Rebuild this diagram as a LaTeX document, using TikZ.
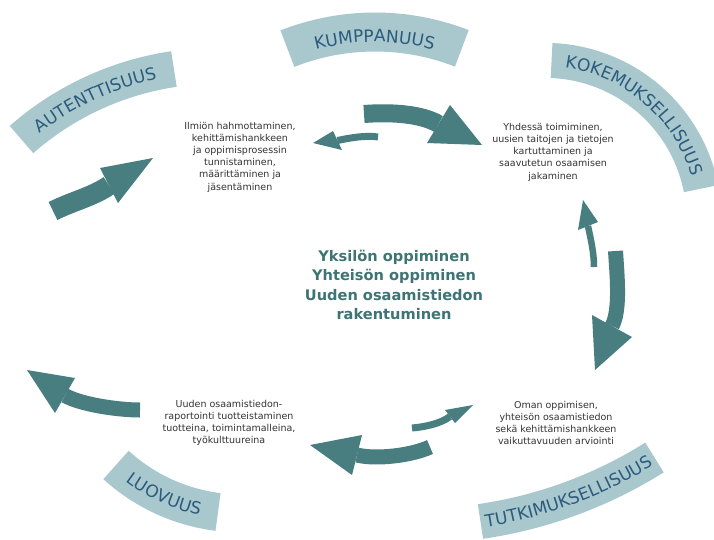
\documentclass[tikz,border=0pt]{standalone}
\usepackage{fontspec}
\setmainfont{DejaVu Sans}
\usetikzlibrary{decorations.text}
\definecolor{bandfill}{HTML}{A8C8CD}
\definecolor{arrowteal}{HTML}{487E80}
\definecolor{bandtext}{HTML}{2C5B7E}
\definecolor{centertext}{HTML}{3E7474}
\definecolor{bodytext}{HTML}{333333}
\newcommand{\bandfont}{\fontsize{17}{17}\selectfont\color{bandtext}}
\tikzset{
  band/.style={draw=bandfill, line cap=butt},
  shaft/.style={draw=arrowteal, line cap=butt},
  head/.style={fill=arrowteal},
  stage/.style={align=center, text=bodytext, font=\fontsize{9.5}{12.2}\selectfont, inner sep=0pt},
  core/.style={align=center, text=centertext, font=\bfseries\fontsize{14.6}{19.6}\selectfont, inner sep=0pt}
}
\begin{document}
\begin{tikzpicture}[x=1pt,y=-1pt]
\useasboundingbox[fill=white] (0,0) rectangle (714,539);

% ---------- bands (circular arcs) ----------
\coordinate (cA) at (217.3,362.8);
\coordinate (cK) at (375,271);
\coordinate (cE) at (545.2,219.2);
\coordinate (cT) at (416.3,78.4);
\coordinate (cL) at (241,327.9);

% AUTENTTISUUS
\draw[band, line width=36pt] ([shift={(cA)}]-131.25:297) arc[start angle=-131.25, end angle=-98.4, radius=297];
\path[decorate, decoration={text along path, text align=center, text={|\bandfont|AUTENTTISUUS}}]
  ([shift={(cA)}]-131.25:290) arc[start angle=-131.25, end angle=-98.4, radius=290];
% KUMPPANUUS
\draw[band, line width=39pt] ([shift={(cK)}]-111.5:239) arc[start angle=-111.5, end angle=-68.7, radius=239];
\path[decorate, decoration={text along path, text align=center, text={|\bandfont|KUMPPANUUS}}]
  ([shift={(cK)}]-111.5:229) arc[start angle=-111.5, end angle=-68.7, radius=229];
% KOKEMUKSELLISUUS
\draw[band, line width=35pt] ([shift={(cE)}]-87.7:158.8) arc[start angle=-87.7, end angle=-11.1, radius=158.8];
\path[decorate, decoration={text along path, text align=center, text={|\bandfont|KOKEMUKSELLISUUS}}]
  ([shift={(cE)}]-87.7:152.5) arc[start angle=-87.7, end angle=-11.1, radius=152.5];
% TUTKIMUKSELLISUUS
\draw[band, line width=35pt] ([shift={(cT)}]81.76:447.7) arc[start angle=81.76, end angle=57.86, radius=447.7];
\path[decorate, decoration={text along path, text align=center, text={|\bandfont|TUTKIMUKSELLISUUS}}]
  ([shift={(cT)}]81.76:454) arc[start angle=81.76, end angle=57.86, radius=454];
% LUOVUUS
\draw[band, line width=38pt] ([shift={(cL)}]132.36:185.5) arc[start angle=132.36, end angle=97.12, radius=185.5];
\path[decorate, decoration={text along path, text align=center, text={|\bandfont|LUOVUUS}}]
  ([shift={(cL)}]132.36:192) arc[start angle=132.36, end angle=97.12, radius=192];

% ---------- arrows ----------
% upper left, up-right
\coordinate (a1t) at (53,211); \coordinate (a1b) at (109,185.5);
\draw[shaft, line width=20pt] (a1t) .. controls (73,201) and (92,197) .. (a1b);
\fill[head] (100,168) -- (153,158) -- (118,203) -- cycle;
% top big, to the right
\coordinate (a2t) at (364,114); \coordinate (a2b) at (438.5,124);
\draw[shaft, line width=18pt] (a2t) .. controls (390,112) and (421,113.6) .. (a2b);
\fill[head] (450,105) -- (482,145) -- (427,143) -- cycle;
% top small, to the left
\coordinate (a3t) at (378,137); \coordinate (a3b) at (337.5,140.5);
\draw[shaft, line width=7pt] (a3t) .. controls (366,135) and (349,138) .. (a3b);
\fill[head] (333,131) -- (313,143) -- (342,150) -- cycle;
% right small, up
\coordinate (a4t) at (594,267); \coordinate (a4b) at (588,226);
\draw[shaft, line width=6.5pt] (a4t) .. controls (594,252) and (590.4,237.8) .. (a4b);
\fill[head] (578,230) -- (583,200) -- (598,222) -- cycle;
% right big, down
\coordinate (a5t) at (615.5,251); \coordinate (a5b) at (612,326);
\draw[shaft, line width=15pt] (a5t) .. controls (617,275) and (620.6,310) .. (a5b);
\fill[head] (592,315) -- (595,370) -- (632,337) -- cycle;
% bottom big, to the left
\coordinate (a6t) at (430,447); \coordinate (a6b) at (357,455);
\draw[shaft, line width=15pt] (a6t) .. controls (411.8,455.4) and (376.4,459.8) .. (a6b);
\fill[head] (362,435) -- (310,445) -- (352,475) -- cycle;
% bottom small, to the right
\coordinate (a7t) at (412,428); \coordinate (a7b) at (450,416.5);
\draw[shaft, line width=7pt] (a7t) .. controls (424,427) and (440.5,423.8) .. (a7b);
\fill[head] (445,410) -- (473,405) -- (455,423) -- cycle;
% lower left, up-left
\coordinate (a8t) at (140,410); \coordinate (a8b) at (65,395.5);
\draw[shaft, line width=15pt] (a8t) .. controls (118,410) and (80.7,404.5) .. (a8b);
\fill[head] (75,378) -- (27,370) -- (55,413) -- cycle;

% ---------- texts ----------
\node[stage] (s1) at (240,157) {Ilmiön hahmottaminen,\\kehittämishankkeen\\ja oppimisprosessin\\tunnistaminen,\\määrittäminen ja\\jäsentäminen};
\node[stage] (s2) at (553,152) {Yhdessä toimiminen,\\uusien taitojen ja tietojen\\kartuttaminen ja\\saavutetun osaamisen\\jakaminen};
\node[stage] (s3) at (556,423) {Oman oppimisen,\\yhteisön osaamistiedon\\sekä kehittämishankkeen\\vaikuttavuuden arviointi};
\node[stage] (s4) at (229,423) {Uuden osaamistiedon-\\raportointi tuotteistaminen\\tuotteina, toimintamalleina,\\työkulttuureina};
\node[core] (c) at (394,285) {Yksilön oppiminen\\Yhteisön oppiminen\\Uuden osaamistiedon\\rakentuminen};
\end{tikzpicture}
\end{document}
